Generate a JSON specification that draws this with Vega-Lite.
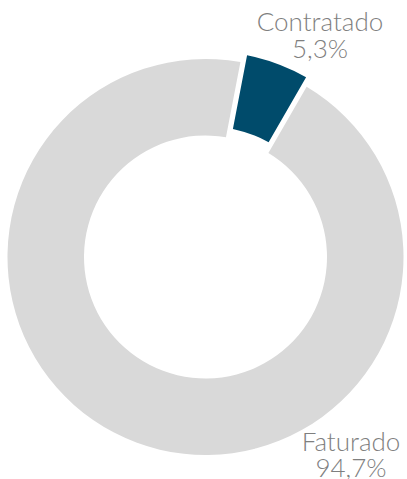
{
  "$schema": "https://vega.github.io/schema/vega-lite/v6.json",
  "width": 411,
  "height": 514,
  "padding": 0,
  "autosize": {"type": "none"},
  "background": "white",
  "view": {"stroke": null},
  "data": {
    "values": [
      {"category": "Contratado", "value": 5.3, "order": 1},
      {"category": "Faturado", "value": 94.7, "order": 2}
    ]
  },
  "transform": [
    {"stack": "value", "groupby": [], "sort": [{"field": "order", "order": "ascending"}], "as": ["v0", "v1"]},
    {"calculate": "datum.category + '\\n' + replace(format(datum.value, '.1f'), '.', ',') + '%'", "as": "label"}
  ],
  "layer": [
    {
      "transform": [{"filter": "datum.category === 'Faturado'"}],
      "mark": {"type": "arc", "radius": 198, "radius2": 121.5, "color": "#d9d9d9", "padAngle": 0.022},
      "encoding": {
        "theta": {"field": "v0", "type": "quantitative", "scale": {"domain": [0, 100], "range": [0.1902, 6.4734]}},
        "theta2": {"field": "v1"}
      }
    },
    {
      "transform": [{"filter": "datum.category === 'Contratado'"}],
      "mark": {"type": "arc", "radius": 206, "radius2": 131, "color": "#004b6b", "padAngle": 0.022},
      "encoding": {
        "theta": {"field": "v0", "type": "quantitative", "scale": {"domain": [0, 100], "range": [0.1902, 6.4734]}},
        "theta2": {"field": "v1"}
      }
    },
    {
      "transform": [{"filter": "datum.category === 'Contratado'"}],
      "mark": {"type": "text", "theta": 0.469, "radius": 253.3, "align": "center", "baseline": "alphabetic", "lineBreak": "\n", "lineHeight": 26.5, "font": "Lato", "fontWeight": 300, "fontSize": 26, "color": "#7f7f7f"},
      "encoding": {"text": {"field": "label"}}
    },
    {
      "transform": [{"filter": "datum.category === 'Faturado'"}],
      "mark": {"type": "text", "theta": 2.4974, "radius": 242.3, "align": "center", "baseline": "alphabetic", "lineBreak": "\n", "lineHeight": 26.5, "font": "Lato", "fontWeight": 300, "fontSize": 26, "color": "#7f7f7f"},
      "encoding": {"text": {"field": "label"}}
    }
  ]
}
